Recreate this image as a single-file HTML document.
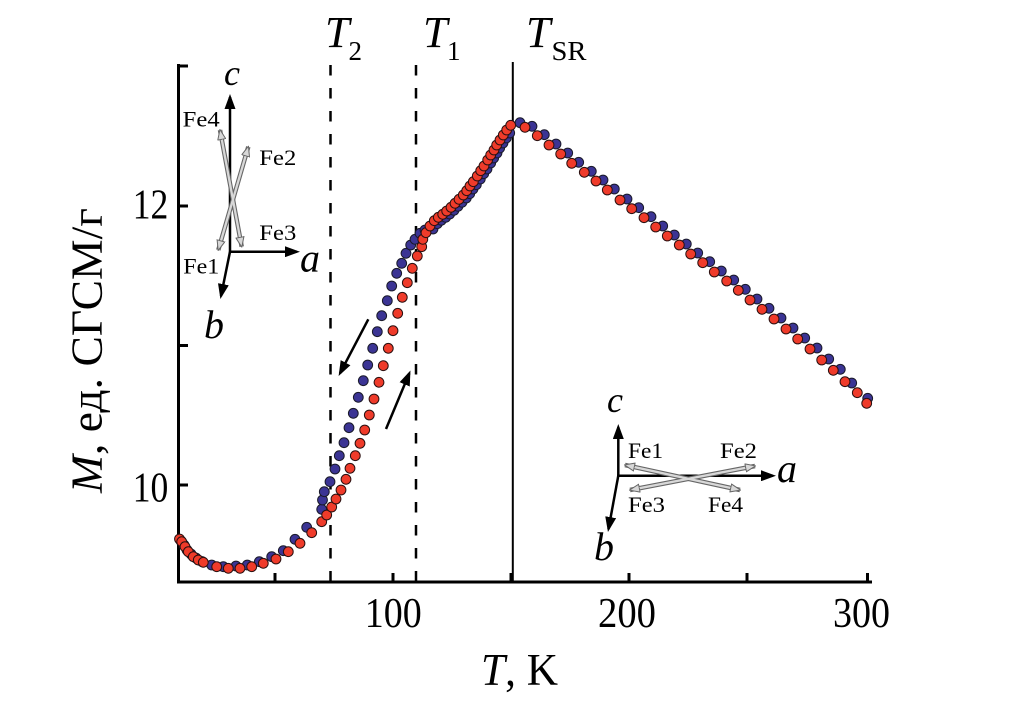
<!DOCTYPE html>
<html><head><meta charset="utf-8">
<style>
html,body{margin:0;padding:0;background:#fff;}
svg{display:block;}
text{font-family:"Liberation Serif","Noto Serif CJK SC",serif;fill:#000;}
</style></head>
<body>
<svg width="1010" height="709" viewBox="0 0 1010 709" xmlns="http://www.w3.org/2000/svg">
<defs>
<marker id="ah" markerUnits="userSpaceOnUse" markerWidth="15" markerHeight="11" refX="12" refY="5.5" orient="auto">
<path d="M0,0 L15,5.5 L0,11 z" fill="#000"/>
</marker>
<marker id="gh" markerUnits="userSpaceOnUse" markerWidth="11" markerHeight="9" refX="10" refY="4.5" orient="auto-start-reverse">
<path d="M0.5,0.5 L10.5,4.5 L0.5,8.5 z" fill="#d8d8d8" stroke="#666" stroke-width="1"/>
</marker>
</defs>

<!-- vertical reference lines -->
<line x1="330.5" y1="65" x2="330.5" y2="582" stroke="#000" stroke-width="2.5" stroke-dasharray="10.5 12.5"/>
<line x1="416" y1="65" x2="416" y2="582" stroke="#000" stroke-width="2.5" stroke-dasharray="10.5 12.5"/>
<line x1="512.8" y1="62" x2="512.8" y2="582" stroke="#000" stroke-width="2"/>

<!-- axes -->
<line x1="178.5" y1="64" x2="178.5" y2="583.5" stroke="#000" stroke-width="3"/>
<line x1="177" y1="582" x2="872" y2="582" stroke="#000" stroke-width="3"/>
<g stroke="#000" stroke-width="3">
<line x1="178" y1="66" x2="188" y2="66"/>
<line x1="178" y1="206" x2="188" y2="206"/>
<line x1="178" y1="345.5" x2="188" y2="345.5"/>
<line x1="178" y1="485" x2="188" y2="485"/>
<line x1="275" y1="582" x2="275" y2="573"/>
<line x1="393" y1="582" x2="393" y2="573"/>
<line x1="511" y1="582" x2="511" y2="573"/>
<line x1="629" y1="582" x2="629" y2="573"/>
<line x1="747" y1="582" x2="747" y2="573"/>
<line x1="867.5" y1="582" x2="867.5" y2="573"/>
</g>

<!-- tick labels -->
<text x="364.8" y="627" font-size="42" textLength="57" lengthAdjust="spacingAndGlyphs">100</text>
<text x="598" y="627" font-size="42" textLength="58" lengthAdjust="spacingAndGlyphs">200</text>
<text x="833" y="627" font-size="42" textLength="57" lengthAdjust="spacingAndGlyphs">300</text>
<text x="132.7" y="218.3" font-size="42" textLength="35.6" lengthAdjust="spacingAndGlyphs">12</text>
<text x="132.7" y="501.7" font-size="42" textLength="35.6" lengthAdjust="spacingAndGlyphs">10</text>

<!-- axis labels -->
<text x="481" y="685" font-size="45" textLength="77" lengthAdjust="spacingAndGlyphs"><tspan font-style="italic">T</tspan>, K</text>
<text transform="translate(101.5,493) rotate(-90)" x="0" y="0" font-size="44" textLength="285" lengthAdjust="spacingAndGlyphs"><tspan font-style="italic">M</tspan>, ед. СГСМ/г</text>

<!-- top labels -->
<text x="325" y="47" font-size="44" font-style="italic">T</text>
<text x="348.5" y="60" font-size="27">2</text>
<text x="423" y="47" font-size="44" font-style="italic">T</text>
<text x="447" y="60" font-size="27">1</text>
<text x="526" y="47" font-size="44" font-style="italic">T</text>
<text x="551.5" y="60" font-size="27" textLength="35" lengthAdjust="spacingAndGlyphs">SR</text>

<!-- blue (cooling) points -->
<g fill="#3b3494" stroke="#1a1a2a" stroke-width="1">
<circle cx="181" cy="541" r="4.9"/><circle cx="184" cy="545" r="4.9"/><circle cx="187" cy="550" r="4.9"/><circle cx="191" cy="554" r="4.9"/><circle cx="196" cy="558" r="4.9"/><circle cx="202" cy="561.5" r="4.9"/>
<circle cx="211.7" cy="565" r="4.9"/><circle cx="223.3" cy="566.7" r="4.9"/><circle cx="236" cy="566" r="4.9"/><circle cx="247.3" cy="565" r="4.9"/><circle cx="259.3" cy="561.7" r="4.9"/><circle cx="271.7" cy="556.7" r="4.9"/><circle cx="283.3" cy="550.7" r="4.9"/><circle cx="295" cy="539.3" r="4.9"/><circle cx="306.7" cy="527.3" r="4.9"/>
<circle cx="321.7" cy="509.3" r="4.9"/><circle cx="322.5" cy="500" r="4.9"/><circle cx="324.3" cy="491.7" r="4.9"/><circle cx="330" cy="481.7" r="4.9"/><circle cx="335" cy="469" r="4.9"/>
<circle cx="339.3" cy="455.7" r="4.9"/><circle cx="344" cy="442.7" r="4.9"/><circle cx="349" cy="427.7" r="4.9"/><circle cx="353.3" cy="413.3" r="4.9"/><circle cx="358.3" cy="397.3" r="4.9"/><circle cx="363.3" cy="380.7" r="4.9"/><circle cx="367.7" cy="365" r="4.9"/><circle cx="372.7" cy="348.3" r="4.9"/><circle cx="377.3" cy="331.7" r="4.9"/><circle cx="381.7" cy="315.7" r="4.9"/><circle cx="387.3" cy="300.7" r="4.9"/><circle cx="391.7" cy="286" r="4.9"/>
<circle cx="396.7" cy="273.3" r="4.9"/><circle cx="401.7" cy="263.3" r="4.9"/><circle cx="406" cy="253.3" r="4.9"/><circle cx="410.7" cy="245" r="4.9"/><circle cx="415" cy="239.3" r="4.9"/><circle cx="420" cy="233.3" r="4.9"/><circle cx="425" cy="230" r="4.9"/>
<circle cx="433" cy="229" r="4.9"/><circle cx="437.3" cy="223.7" r="4.9"/><circle cx="441.3" cy="220.3" r="4.9"/><circle cx="445.7" cy="217.3" r="4.9"/><circle cx="449.7" cy="214" r="4.9"/><circle cx="454" cy="210.3" r="4.9"/><circle cx="458" cy="206.3" r="4.9"/><circle cx="462" cy="202.3" r="4.9"/><circle cx="466.3" cy="198" r="4.9"/><circle cx="469.7" cy="193.7" r="4.9"/><circle cx="473" cy="189" r="4.9"/><circle cx="476.3" cy="184.7" r="4.9"/><circle cx="480.3" cy="179" r="4.9"/><circle cx="483.7" cy="173.7" r="4.9"/><circle cx="487" cy="169" r="4.9"/><circle cx="490.7" cy="163" r="4.9"/><circle cx="493.7" cy="158" r="4.9"/><circle cx="497" cy="153" r="4.9"/><circle cx="499.7" cy="148" r="4.9"/><circle cx="503" cy="143" r="4.9"/><circle cx="506.3" cy="138" r="4.9"/><circle cx="509.7" cy="133" r="4.9"/>
<circle cx="520" cy="122.7" r="4.9"/>
<circle cx="532" cy="126.3" r="4.9"/><circle cx="544.3" cy="134.7" r="4.9"/><circle cx="556" cy="144" r="4.9"/><circle cx="567.7" cy="153" r="4.9"/><circle cx="578.7" cy="162.3" r="4.9"/><circle cx="591.3" cy="171.3" r="4.9"/><circle cx="603" cy="180" r="4.9"/><circle cx="614.3" cy="189" r="4.9"/><circle cx="627" cy="199" r="4.9"/><circle cx="638.7" cy="207.7" r="4.9"/><circle cx="651" cy="216.7" r="4.9"/><circle cx="662.7" cy="226" r="4.9"/><circle cx="674.3" cy="235" r="4.9"/><circle cx="686.3" cy="244" r="4.9"/><circle cx="697.7" cy="253" r="4.9"/><circle cx="709.7" cy="261.7" r="4.9"/><circle cx="721.3" cy="271" r="4.9"/><circle cx="733.7" cy="280" r="4.9"/><circle cx="745.3" cy="289.3" r="4.9"/><circle cx="757" cy="299" r="4.9"/><circle cx="769" cy="308.3" r="4.9"/><circle cx="781" cy="318" r="4.9"/><circle cx="793" cy="328" r="4.9"/><circle cx="804.7" cy="338" r="4.9"/><circle cx="817" cy="348" r="4.9"/><circle cx="828.7" cy="359" r="4.9"/><circle cx="840.3" cy="369.3" r="4.9"/><circle cx="851.7" cy="383" r="4.9"/><circle cx="867.7" cy="398.3" r="4.9"/>
</g>

<!-- red (warming) points -->
<g fill="#ef3b2a" stroke="#2a1010" stroke-width="1">
<circle cx="179.5" cy="539" r="4.9"/><circle cx="181.7" cy="541.7" r="4.9"/><circle cx="185" cy="546.7" r="4.9"/><circle cx="188.3" cy="551.7" r="4.9"/><circle cx="193.3" cy="556.7" r="4.9"/><circle cx="198.3" cy="560" r="4.9"/><circle cx="203.3" cy="562.3" r="4.9"/>
<circle cx="216.7" cy="566.7" r="4.9"/><circle cx="228.3" cy="568.3" r="4.9"/><circle cx="240" cy="568.3" r="4.9"/><circle cx="251.7" cy="566.7" r="4.9"/><circle cx="263.3" cy="563.3" r="4.9"/><circle cx="276" cy="559" r="4.9"/><circle cx="288.3" cy="551.7" r="4.9"/><circle cx="300" cy="543.3" r="4.9"/><circle cx="311.7" cy="532.7" r="4.9"/><circle cx="321.7" cy="521.7" r="4.9"/><circle cx="326.7" cy="515" r="4.9"/><circle cx="331.7" cy="507" r="4.9"/>
<circle cx="336" cy="499" r="4.9"/><circle cx="341" cy="490" r="4.9"/><circle cx="346" cy="479.3" r="4.9"/><circle cx="350" cy="468.3" r="4.9"/>
<circle cx="355.3" cy="455.7" r="4.9"/><circle cx="360" cy="443.3" r="4.9"/><circle cx="364.7" cy="430" r="4.9"/><circle cx="369.3" cy="415" r="4.9"/><circle cx="374" cy="399" r="4.9"/><circle cx="379" cy="382.3" r="4.9"/><circle cx="383.3" cy="365.7" r="4.9"/><circle cx="388.3" cy="348.3" r="4.9"/><circle cx="393" cy="330.7" r="4.9"/><circle cx="397.7" cy="313.3" r="4.9"/><circle cx="402.3" cy="297.3" r="4.9"/><circle cx="407.3" cy="282.7" r="4.9"/>
<circle cx="412.3" cy="268.3" r="4.9"/><circle cx="417.3" cy="256" r="4.9"/><circle cx="421.7" cy="246.7" r="4.9"/><circle cx="422.8" cy="239.3" r="4.9"/><circle cx="426" cy="232.7" r="4.9"/><circle cx="430" cy="226" r="4.9"/><circle cx="434.3" cy="220.7" r="4.9"/><circle cx="438.3" cy="217.3" r="4.9"/><circle cx="442.7" cy="214.3" r="4.9"/><circle cx="446.7" cy="211" r="4.9"/><circle cx="451" cy="207.3" r="4.9"/><circle cx="455" cy="203.3" r="4.9"/><circle cx="459" cy="199.3" r="4.9"/><circle cx="463.3" cy="195" r="4.9"/><circle cx="466.7" cy="190.7" r="4.9"/><circle cx="470" cy="186" r="4.9"/><circle cx="473.3" cy="181.7" r="4.9"/><circle cx="477.3" cy="176" r="4.9"/><circle cx="480.7" cy="170.7" r="4.9"/><circle cx="484" cy="166" r="4.9"/><circle cx="487.7" cy="160" r="4.9"/><circle cx="490.7" cy="155" r="4.9"/><circle cx="494" cy="150" r="4.9"/><circle cx="496.7" cy="145" r="4.9"/><circle cx="500" cy="140" r="4.9"/><circle cx="503.3" cy="135" r="4.9"/><circle cx="506.7" cy="130" r="4.9"/><circle cx="510.7" cy="125.3" r="4.9"/>
<circle cx="525" cy="127.3" r="4.9"/><circle cx="537.3" cy="135.7" r="4.9"/><circle cx="549" cy="145" r="4.9"/><circle cx="560.7" cy="154" r="4.9"/><circle cx="571.7" cy="163.3" r="4.9"/><circle cx="584.3" cy="172.3" r="4.9"/><circle cx="596" cy="181" r="4.9"/><circle cx="607.3" cy="190" r="4.9"/><circle cx="620" cy="200" r="4.9"/><circle cx="631.7" cy="208.7" r="4.9"/><circle cx="644" cy="217.7" r="4.9"/><circle cx="655.7" cy="227" r="4.9"/><circle cx="667.3" cy="236" r="4.9"/><circle cx="679.3" cy="245" r="4.9"/><circle cx="690.7" cy="254" r="4.9"/><circle cx="702.7" cy="262.7" r="4.9"/><circle cx="714.3" cy="272" r="4.9"/><circle cx="726.7" cy="281" r="4.9"/><circle cx="738.3" cy="290.3" r="4.9"/><circle cx="750" cy="300" r="4.9"/><circle cx="762" cy="309.3" r="4.9"/><circle cx="774" cy="319" r="4.9"/><circle cx="786" cy="329" r="4.9"/><circle cx="797.7" cy="339" r="4.9"/><circle cx="810" cy="349" r="4.9"/><circle cx="821.7" cy="360" r="4.9"/><circle cx="833.3" cy="370.3" r="4.9"/><circle cx="845" cy="381.7" r="4.9"/><circle cx="857.3" cy="392.7" r="4.9"/><circle cx="866.7" cy="403.3" r="4.9"/>
</g>

<!-- hysteresis arrows -->
<line x1="368.3" y1="319.3" x2="340" y2="373.3" stroke="#000" stroke-width="2.5" marker-end="url(#ah)"/>
<line x1="386" y1="429" x2="409.3" y2="373.3" stroke="#000" stroke-width="2.5" marker-end="url(#ah)"/>

<!-- inset 1 -->
<g>
<line x1="230" y1="253" x2="230" y2="97" stroke="#000" stroke-width="2.5" marker-end="url(#ah)"/>
<line x1="229" y1="251.7" x2="297" y2="251.7" stroke="#000" stroke-width="2.5" marker-end="url(#ah)"/>
<line x1="230" y1="251.7" x2="221" y2="296" stroke="#000" stroke-width="2.5" marker-end="url(#ah)"/>
<line x1="220" y1="130" x2="241.7" y2="246.7" stroke="#666" stroke-width="4.5"/>
<line x1="248.3" y1="146.7" x2="218.3" y2="250" stroke="#666" stroke-width="4.5"/>
<line x1="220" y1="130" x2="241.7" y2="246.7" stroke="#d8d8d8" stroke-width="2.3" marker-start="url(#gh)" marker-end="url(#gh)"/>
<line x1="248.3" y1="146.7" x2="218.3" y2="250" stroke="#d8d8d8" stroke-width="2.3" marker-start="url(#gh)" marker-end="url(#gh)"/>
<text x="182.7" y="126.7" font-size="22" textLength="37" lengthAdjust="spacingAndGlyphs">Fe4</text>
<text x="259.3" y="165" font-size="22" textLength="37" lengthAdjust="spacingAndGlyphs">Fe2</text>
<text x="259.3" y="240" font-size="22" textLength="37" lengthAdjust="spacingAndGlyphs">Fe3</text>
<text x="183.3" y="273.3" font-size="22" textLength="36" lengthAdjust="spacingAndGlyphs">Fe1</text>
<text x="224" y="85" font-size="36" font-style="italic">c</text>
<text x="300" y="271.7" font-size="40" font-style="italic">a</text>
<text x="204" y="338" font-size="40" font-style="italic">b</text>
</g>

<!-- inset 2 -->
<g>
<line x1="618.3" y1="477" x2="618.3" y2="427" stroke="#000" stroke-width="2.5" marker-end="url(#ah)"/>
<line x1="617" y1="475.7" x2="773" y2="475.7" stroke="#000" stroke-width="2.5" marker-end="url(#ah)"/>
<line x1="618.3" y1="475.7" x2="608.5" y2="529" stroke="#000" stroke-width="2.5" marker-end="url(#ah)"/>
<line x1="625" y1="465" x2="740" y2="490" stroke="#666" stroke-width="4.5"/>
<line x1="630" y1="490" x2="755" y2="466" stroke="#666" stroke-width="4.5"/>
<line x1="625" y1="465" x2="740" y2="490" stroke="#d8d8d8" stroke-width="2.3" marker-start="url(#gh)" marker-end="url(#gh)"/>
<line x1="630" y1="490" x2="755" y2="466" stroke="#d8d8d8" stroke-width="2.3" marker-start="url(#gh)" marker-end="url(#gh)"/>
<text x="628" y="458" font-size="22" textLength="35" lengthAdjust="spacingAndGlyphs">Fe1</text>
<text x="720" y="458" font-size="22" textLength="37" lengthAdjust="spacingAndGlyphs">Fe2</text>
<text x="628" y="512" font-size="22" textLength="37" lengthAdjust="spacingAndGlyphs">Fe3</text>
<text x="708" y="512" font-size="22" textLength="35" lengthAdjust="spacingAndGlyphs">Fe4</text>
<text x="607" y="412" font-size="36" font-style="italic">c</text>
<text x="777" y="482" font-size="40" font-style="italic">a</text>
<text x="594" y="560" font-size="40" font-style="italic">b</text>
</g>
</svg>
</body></html>
